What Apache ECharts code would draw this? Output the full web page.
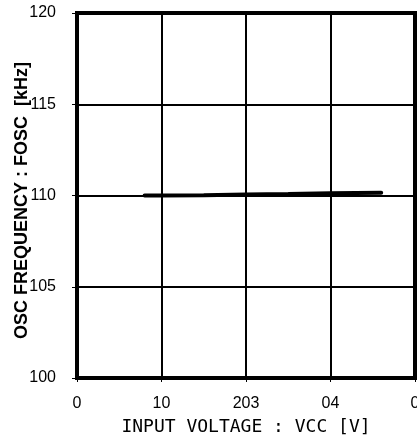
<!DOCTYPE html>
<html><head><meta charset="utf-8">
<script src="https://cdn.jsdelivr.net/npm/echarts@6/dist/echarts.min.js"></script>
<style>html,body{margin:0;padding:0;background:#fff}#c{width:417px;height:440px}</style>
</head><body><div id="c"></div>
<script>
const voltage = [8, 10, 15, 20, 25, 30, 36];
const freq = [110.0, 110.0, 110.02, 110.05, 110.08, 110.12, 110.15];
const xTickLabels = {0: "0", 10: "10", 20: "203", 30: "04", 40: "0"};
const yTickLabels = {100: "100", 105: "105", 110: "110", 115: "115", 120: "120"};

const chart = echarts.init(document.getElementById('c'), null, {renderer: 'canvas'});
chart.setOption({
  animation: false,
  backgroundColor: '#fff',
  grid: {left: 77, right: 2, top: 13, bottom: 62, containLabel: false, outerBoundsMode: 'none',
         show: true, borderColor: '#000', borderWidth: 4, backgroundColor: 'transparent'},
  xAxis: {
    type: 'value', min: 0, max: 40, interval: 10,
    name: 'INPUT VOLTAGE : VCC [V]', nameLocation: 'middle', nameGap: 40, nameMoveOverlap: false,
    nameTextStyle: {fontFamily: 'DejaVu Sans Mono', fontSize: 18, color: '#000'},
    axisLine: {show: true, lineStyle: {color: '#000', width: 4}},
    axisTick: {show: true, length: 4, lineStyle: {color: '#000', width: 1}},
    splitLine: {show: true, lineStyle: {color: '#000', width: 2}},
    axisLabel: {formatter: v => xTickLabels[v] ?? '', fontFamily: 'Liberation Sans', fontSize: 16, color: '#000', margin: 18, hideOverlap: false}
  },
  yAxis: {
    type: 'value', min: 100, max: 120, interval: 5,
    name: 'OSC FREQUENCY : FOSC  [kHz]', nameLocation: 'middle', nameGap: 46, nameRotate: 90, nameMoveOverlap: false,
    nameTextStyle: {fontFamily: 'Liberation Sans', fontWeight: 'bold', fontSize: 18, color: '#000', padding: [0, 10, 0, 0]},
    axisLine: {show: true, lineStyle: {color: '#000', width: 4}},
    axisTick: {show: true, length: 5, lineStyle: {color: '#000', width: 1}},
    splitLine: {show: true, lineStyle: {color: '#000', width: 2}},
    axisLabel: {formatter: v => yTickLabels[v] ?? '', fontFamily: 'Liberation Sans', fontSize: 16, color: '#000', margin: 21}
  },
  series: [{
    type: 'line', data: voltage.map((v, i) => [v, freq[i]]),
    showSymbol: false, smooth: false,
    lineStyle: {color: '#000', width: 4, cap: 'round'}
  }]
});
</script></body></html>
